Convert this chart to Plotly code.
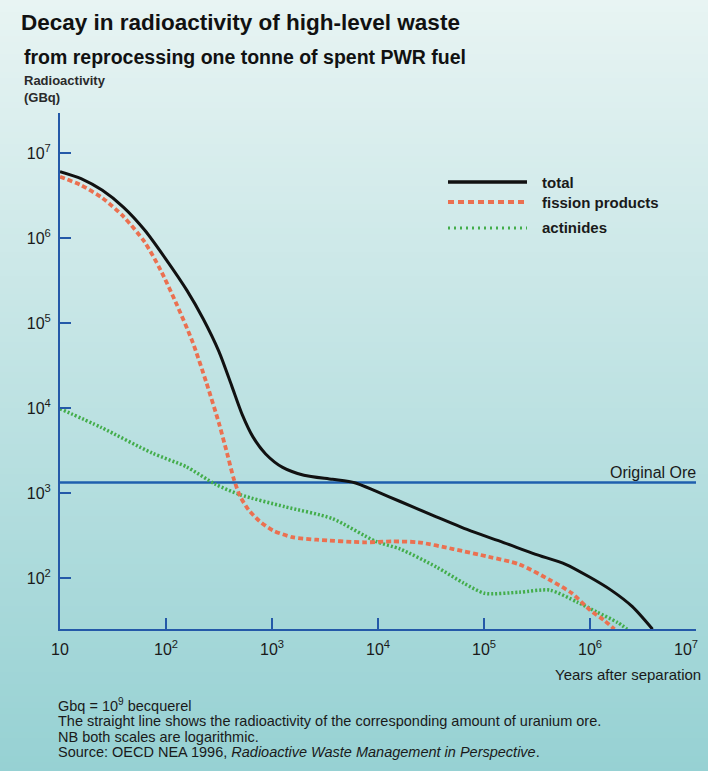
import plotly.graph_objects as go

# ---------------- data ----------------
total_years = [10, 15.8, 25.1, 39.8, 63.1, 100, 158, 224, 316, 417, 525, 661, 871, 1260, 2000,
               3720, 6030, 9550, 16200, 35500, 75900, 151000, 302000, 589000, 1.0e6, 1.58e6,
               2.51e6, 3.89e6]
total_gbq = [6.03e6, 5.0e6, 3.63e6, 2.29e6, 1.23e6, 5.6e5, 2.4e5, 1.12e5, 4.6e4, 1.82e4, 8300,
             4570, 2880, 2000, 1620, 1450, 1320, 1050, 794, 525, 355, 263, 191, 145, 102, 72, 46, 25]

fission_years = [10, 15.8, 25.1, 39.8, 63.1, 89.1, 126, 178, 240, 316, 380, 437, 501, 603, 759,
                 1020, 1550, 2630, 7410, 13500, 24000, 51300, 110000, 214000, 417000, 676000,
                 1.0e6, 1.35e6, 1.70e6]
fission_gbq = [5.25e6, 4.17e6, 2.95e6, 1.78e6, 8.9e5, 4.17e5, 1.66e5, 6.0e4, 2.0e4, 6600, 2820,
               1450, 912, 631, 468, 363, 302, 282, 263, 269, 263, 219, 178, 145, 95, 66, 42, 32, 25]

actinide_years = [10, 24.5, 74, 155, 295, 500, 1320, 3700, 9500, 16200, 35500, 64500, 102000,
                  214000, 417000, 759000, 1.15e6, 1.82e6, 2.24e6]
actinide_gbq = [9800, 5900, 2950, 2040, 1260, 955, 690, 500, 270, 219, 135, 87, 66, 68, 72, 52,
                40, 30, 25]

ore_years = [10, 1e7]
ore_gbq = [1330, 1330]

x_tickvals = [10, 1e2, 1e3, 1e4, 1e5, 1e6, 1e7]
x_ticktext = ["10", "10<sup>2</sup>", "10<sup>3</sup>", "10<sup>4</sup>", "10<sup>5</sup>",
              "10<sup>6</sup>", ""]
x_last_label = "10<sup>7</sup>"
y_tickvals = [1e2, 1e3, 1e4, 1e5, 1e6, 1e7]
y_ticktext = ["10<sup>2</sup>", "10<sup>3</sup>", "10<sup>4</sup>", "10<sup>5</sup>",
              "10<sup>6</sup>", "10<sup>7</sup>"]

series_names = ["total", "fission products", "actinides"]

# ---------------- layout helpers ----------------
W, H = 708, 771
L, R, T, B = 60, 696, 113, 629
FONT = "Liberation Sans, Arial, sans-serif"
AXIS_BLUE = "#2459a8"
TOTAL_C, FISSION_C, ACT_C = "#111111", "#eb7050", "#43ad4b"


def px(xp):
    return (xp - L) / (R - L)


def py(yp):
    return (B - yp) / (B - T)


fig = go.Figure()

# gradient background bands
shapes = []
top = (232, 244, 243)
bot = (150, 209, 211)
step = 6
for y0 in range(0, H, step):
    f = (y0 + step / 2) / H
    c = tuple(int(round(top[i] + (bot[i] - top[i]) * f)) for i in range(3))
    shapes.append(dict(type="rect", xref="paper", yref="paper", layer="below",
                       x0=px(-5), x1=px(W + 5), y0=py(y0 + step + 1), y1=py(y0),
                       line=dict(width=0), fillcolor="rgb(%d,%d,%d)" % c))

fig.add_trace(go.Scatter(x=ore_years, y=ore_gbq, mode="lines", showlegend=False,
                         line=dict(color="#1f5fae", width=2.5), hoverinfo="skip"))
fig.add_trace(go.Scatter(x=actinide_years, y=actinide_gbq, mode="lines", name=series_names[2],
                         showlegend=False,
                         line=dict(color=ACT_C, width=3.5, dash="2px,2px", shape="spline",
                                   smoothing=0.7)))
fig.add_trace(go.Scatter(x=fission_years, y=fission_gbq, mode="lines", name=series_names[1],
                         showlegend=False,
                         line=dict(color=FISSION_C, width=3.8, dash="5px,3px", shape="spline",
                                   smoothing=0.7)))
fig.add_trace(go.Scatter(x=total_years, y=total_gbq, mode="lines", name=series_names[0],
                         showlegend=False,
                         line=dict(color=TOTAL_C, width=3, shape="spline", smoothing=0.7)))

# custom legend (long line samples)
leg = [(182, dict(color=TOTAL_C, width=3.5)),
       (202, dict(color=FISSION_C, width=3.8, dash="6px,4px")),
       (228, dict(color=ACT_C, width=3, dash="2px,4px"))]
annotations = []
for (yy, ln), name in zip(leg, series_names):
    shapes.append(dict(type="line", xref="paper", yref="paper", x0=px(448), x1=px(527),
                       y0=py(yy), y1=py(yy), line=ln))
    annotations.append(dict(xref="paper", yref="paper", x=px(540), y=py(yy), xanchor="left",
                            yanchor="middle", showarrow=False, text="<b>%s</b>" % name,
                            font=dict(family=FONT, size=15, color="#1a1a1a")))

annotations += [
    dict(xref="paper", yref="paper", x=px(19), y=py(23), xanchor="left", yanchor="middle",
         showarrow=False, text="<b>Decay in radioactivity of high-level waste</b>",
         font=dict(family=FONT, size=22.5, color="#111111")),
    dict(xref="paper", yref="paper", x=px(22), y=py(57), xanchor="left", yanchor="middle",
         showarrow=False, text="<b>from reprocessing one tonne of spent PWR fuel</b>",
         font=dict(family=FONT, size=19.5, color="#111111")),
    dict(xref="paper", yref="paper", x=px(22), y=py(89), xanchor="left", yanchor="middle",
         showarrow=False, align="left", text="<b>Radioactivity<br>(GBq)</b>",
         font=dict(family=FONT, size=13, color="#2a2a2a")),
    dict(xref="paper", yref="paper", x=px(698), y=py(472), xanchor="right", yanchor="middle",
         showarrow=False, text="Original Ore",
         font=dict(family=FONT, size=16, color="#1a1a1a")),
    dict(xref="paper", yref="paper", x=px(703), y=py(674), xanchor="right", yanchor="middle",
         showarrow=False, text="Years after separation",
         font=dict(family=FONT, size=15, color="#1a1a1a")),
    dict(xref="paper", yref="paper", x=px(700), y=py(648), xanchor="right", yanchor="middle",
         showarrow=False, text=x_last_label,
         font=dict(family=FONT, size=16, color="#1a1a1a")),
]
foot = ["Gbq = 10<sup>9</sup> becquerel",
        "The straight line shows the radioactivity of the corresponding amount of uranium ore.",
        "NB both scales are logarithmic.",
        "Source: OECD NEA 1996, <i>Radioactive Waste Management in Perspective</i>."]
for yy, t in zip([705, 721, 737, 752], foot):
    annotations.append(dict(xref="paper", yref="paper", x=px(56), y=py(yy), xanchor="left",
                            yanchor="middle", showarrow=False, text=t,
                            font=dict(family=FONT, size=14.5, color="#1a1a1a")))

fig.update_layout(
    width=W, height=H,
    margin=dict(l=L, r=W - R, t=T, b=H - B, pad=0),
    paper_bgcolor="rgb(150,209,211)",
    plot_bgcolor="rgba(0,0,0,0)",
    shapes=shapes,
    annotations=annotations,
    showlegend=False,
    font=dict(family=FONT, color="#1a1a1a"),
)
fig.update_xaxes(type="log", range=[1, 7], tickvals=x_tickvals, ticktext=x_ticktext,
                 showgrid=False, zeroline=False, showline=True, linecolor=AXIS_BLUE, linewidth=2,
                 ticks="inside", ticklen=11, tickwidth=2, tickcolor=AXIS_BLUE,
                 ticklabelstandoff=5, tickfont=dict(family=FONT, size=16, color="#1a1a1a"))
fig.update_yaxes(type="log", range=[1.4, 7.47], tickvals=y_tickvals, ticktext=y_ticktext,
                 showgrid=False, zeroline=False, showline=True, linecolor=AXIS_BLUE, linewidth=2,
                 ticks="inside", ticklen=11, tickwidth=2, tickcolor=AXIS_BLUE,
                 ticklabelstandoff=4, tickfont=dict(family=FONT, size=16, color="#1a1a1a"))

fig.write_html("out.html",
               config={"displayModeBar": False},
               post_script="document.body.style.margin='0px';"
                           "document.body.style.overflow='hidden';")
